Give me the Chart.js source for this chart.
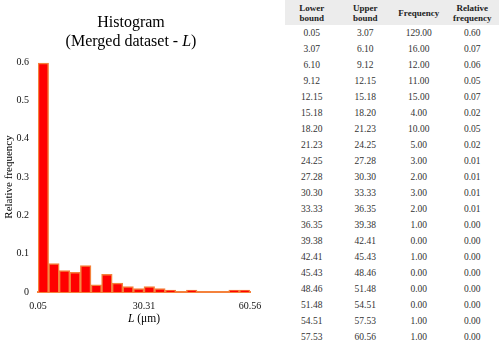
<!DOCTYPE html>
<html>
<head>
<meta charset="utf-8">
<script src="https://cdn.jsdelivr.net/npm/chart.js@4"></script>
<style>
  body { margin: 0; background: #fff; width: 500px; height: 345px; overflow: hidden; position: relative; }
  #wrap { position: absolute; left: 0; top: 0; width: 270px; height: 345px; }
  table { position: absolute; left: 285px; top: 0; width: 214px; border-collapse: collapse;
          font-family: 'Liberation Serif', serif; color: #333; table-layout: fixed; }
  th { background: #ececec; font-size: 9px; font-weight: bold; line-height: 10px; height: 25px;
       padding: 0; vertical-align: middle; color: #222; }
  td { font-size: 9.5px; height: 16px; padding: 0; text-align: center; }
</style>
</head>
<body>
<div id="wrap"><canvas id="hist"></canvas></div>
<table id="tbl"></table>
<script>
// bins (table columns)
const lowerBounds = [0.05, 3.07, 6.10, 9.12, 12.15, 15.18, 18.20, 21.23, 24.25, 27.28,
                     30.30, 33.33, 36.35, 39.38, 42.41, 45.43, 48.46, 51.48, 54.51, 57.53];
const upperBounds = [3.07, 6.10, 9.12, 12.15, 15.18, 18.20, 21.23, 24.25, 27.28, 30.30,
                     33.33, 36.35, 39.38, 42.41, 45.43, 48.46, 51.48, 54.51, 57.53, 60.56];
const frequencies = [129, 16, 12, 11, 15, 4, 10, 5, 3, 2, 3, 2, 1, 0, 1, 0, 0, 0, 1, 1];
const relFreqTable = [0.60, 0.07, 0.06, 0.05, 0.07, 0.02, 0.05, 0.02, 0.01, 0.01,
                      0.01, 0.01, 0.00, 0.00, 0.00, 0.00, 0.00, 0.00, 0.00, 0.00];
// bar heights
const barHeights = [0.597, 0.074, 0.056, 0.051, 0.069, 0.019, 0.046, 0.023, 0.014, 0.009,
                    0.014, 0.009, 0.005, 0, 0.005, 0, 0, 0, 0.005, 0.005];
const xTicks = [0.05, 30.31, 60.56];

// table
const tbl = document.getElementById('tbl');
let html = '<tr><th>Lower<br>bound</th><th>Upper<br>bound</th><th>Frequency</th><th>Relative<br>frequency</th></tr>';
lowerBounds.forEach((lo, i) => {
    html += '<tr><td>' + lo.toFixed(2) + '</td><td>' + upperBounds[i].toFixed(2) + '</td><td>' +
        frequencies[i].toFixed(2) + '</td><td>' + relFreqTable[i].toFixed(2) + '</td></tr>';
});
tbl.innerHTML = html;

const serif = "'Liberation Serif', 'Times New Roman', serif";
const orange = '#f4823c';

// draws a line made of [text, italic] pieces centred on cx
function drawPieces(ctx, pieces, cx, y, size) {
    let total = 0;
    pieces.forEach(p => {
        ctx.font = (p[1] ? 'italic ' : '') + size + 'px ' + serif;
        total += ctx.measureText(p[0]).width;
    });
    let x = cx - total / 2;
    pieces.forEach(p => {
        ctx.font = (p[1] ? 'italic ' : '') + size + 'px ' + serif;
        ctx.fillText(p[0], x, y);
        x += ctx.measureText(p[0]).width;
    });
}

const textPlugin = {
    id: 'texts',
    afterDraw(chart) {
        const ctx = chart.ctx;
        const area = chart.chartArea;
        ctx.save();
        ctx.fillStyle = '#000';
        ctx.textAlign = 'left';
        ctx.textBaseline = 'alphabetic';
        drawPieces(ctx, [['Histogram', false]], 131, 27, 16);
        drawPieces(ctx, [['(Merged dataset - ', false], ['L', true], [')', false]], 131, 46, 16);
        drawPieces(ctx, [['L', true], [' (\u03bcm)', false]], (area.left + area.right) / 2, 322, 11.5);
        ctx.translate(12, (area.top + area.bottom) / 2);
        ctx.rotate(-Math.PI / 2);
        drawPieces(ctx, [['Relative frequency', false]], 0, 0, 11);
        ctx.restore();
    }
};

const ctx = document.getElementById('hist').getContext('2d');
new Chart(ctx, {
    type: 'bar',
    plugins: [textPlugin],
    data: {
        datasets: [{
            data: barHeights.map((h, i) => ({ x: (lowerBounds[i] + upperBounds[i]) / 2, y: h })),
            backgroundColor: '#ff0000',
            borderColor: orange,
            borderWidth: 1.5,
            categoryPercentage: 1,
            barPercentage: 1
        }]
    },
    options: {
        responsive: true,
        maintainAspectRatio: false,
        animation: false,
        layout: { padding: { left: 0, right: 20, top: 62, bottom: 0 } },
        plugins: { legend: { display: false }, tooltip: { enabled: false } },
        scales: {
            x: {
                type: 'linear',
                min: 0.05,
                max: 60.56,
                offset: false,
                grid: { display: false, offset: false, drawTicks: false },
                border: { display: true, color: orange, width: 2 },
                afterBuildTicks: axis => { axis.ticks = xTicks.map(v => ({ value: v })); },
                afterFit: axis => { axis.height = 53; },
                ticks: {
                    padding: 8,
                    maxRotation: 0,
                    autoSkip: false,
                    color: '#111',
                    font: { family: serif, size: 10 },
                    callback: v => v.toFixed(2)
                }
            },
            y: {
                min: 0,
                max: 0.6,
                grid: { display: false, drawTicks: false },
                border: { display: false },
                afterFit: axis => { axis.width = 38; },
                ticks: {
                    stepSize: 0.1,
                    padding: 9,
                    color: '#111',
                    font: { family: serif, size: 10 },
                    callback: v => v === 0 ? '0' : v.toFixed(1)
                }
            }
        }
    }
});
</script>
</body>
</html>
